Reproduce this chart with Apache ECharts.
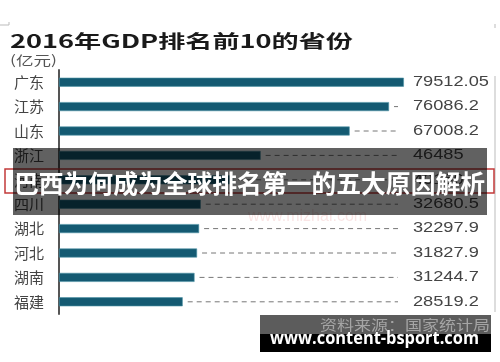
<!DOCTYPE html>
<html>
<head>
<meta charset="utf-8">
<script src="https://cdn.jsdelivr.net/npm/echarts@6/dist/echarts.min.js"></script>
<style>html,body{margin:0;padding:0;background:#fff;}#c{width:500px;height:362px;}</style>
</head>
<body>
<div id="c"></div>
<script>
var categories = ['广东','江苏','山东','浙江','河南','四川','湖北','河北','湖南','福建'];
var values = [79512.05, 76086.2, 67008.2, 46485, 40160, 32680.5, 32297.9, 31827.9, 31244.7, 28519.2];
var titleText = '2016年GDP排名前10的省份';
var unitText = '(亿元)';
var bannerText = '巴西为何成为全球排名第一的五大原因解析';
var sourceText = '资料来源：国家统计局';
var urlText = 'www.content-bsport.com';

var CJK = '"Noto Sans CJK SC", sans-serif';
var mctx = document.createElement('canvas').getContext('2d');
function fitScale(text, font, target){ mctx.font = font; return target / mctx.measureText(text).width; }

var chart = echarts.init(document.getElementById('c'));
var titleFont = 'bold 18px ' + CJK;
var unitFont = '13px ' + CJK;
var bannerFont = 'bold 25px ' + CJK;
var srcFont = '14px ' + CJK;
var urlFont = 'bold 17px "Open Sans", sans-serif';
var valFont = '14px "Liberation Sans", Arial, sans-serif';

var customData = values.map(function(v, i){ return [v, i]; });

chart.setOption({
  animation: false,
  backgroundColor: '#ffffff',
  grid: { left: 59, right: 94, top: 70, height: 244 },
  xAxis: { type: 'value', min: 0, max: 80000, show: false, splitLine: { show: false } },
  yAxis: {
    type: 'category', data: categories, inverse: true,
    axisLine: { show: true, lineStyle: { color: '#555', width: 2 } },
    axisTick: { show: false },
    axisLabel: { margin: 15, color: '#444', fontSize: 15, fontFamily: 'Noto Sans CJK SC' }
  },
  series: [
    { type: 'bar', data: values, barWidth: 9, itemStyle: { color: '#145a72', borderColor: '#4d93a6', borderWidth: 0.6 }, z: 2 },
    {
      type: 'custom', data: customData, encode: { x: 0, y: 1 }, z: 3,
      renderItem: function(params, api){
        var v = api.value(0), i = api.value(1);
        var p = api.coord([v, i]);
        var right = params.coordSys.x + params.coordSys.width;
        var children = [];
        var x0 = p[0] + 5, x1 = right - 8;
        if (x1 > x0) {
          children.push({ type: 'line', shape: { x1: x0, y1: p[1], x2: x1, y2: p[1] },
            style: { stroke: '#777', lineWidth: 1, lineDash: [5, 4] } });
        }
        children.push({ type: 'text', x: right + 7, y: p[1], scaleX: 1.3,
          style: { text: String(values[i]), fill: '#444', font: valFont, align: 'left', verticalAlign: 'middle' } });
        return { type: 'group', children: children };
      }
    }
  ],
  graphic: [
    { type: 'line', shape: { x1: 0, y1: 25, x2: 9, y2: 25 }, style: { stroke: '#bbb', lineWidth: 1 }, z: 1 },
    { type: 'line', shape: { x1: 9, y1: 22, x2: 9, y2: 25 }, style: { stroke: '#bbb', lineWidth: 1 }, z: 1 },
    { type: 'line', shape: { x1: 495, y1: 24, x2: 495, y2: 28 }, style: { stroke: '#bbb', lineWidth: 1 }, z: 1 },
    { type: 'line', shape: { x1: 495, y1: 76, x2: 495, y2: 312 }, style: { stroke: '#bbb', lineWidth: 1 }, z: 1 },
    { type: 'text', x: 10, y: 41, scaleX: fitScale(titleText, titleFont, 343),
      style: { text: titleText, font: titleFont, fill: '#1a1a1a', align: 'left', verticalAlign: 'middle' }, z: 5 },
    { type: 'text', x: 10, y: 60, scaleX: fitScale(unitText, unitFont, 47),
      style: { text: unitText, font: unitFont, fill: '#555', align: 'left', verticalAlign: 'middle' }, z: 5 },
    { type: 'text', x: 248, y: 217,
      style: { text: 'www.mizhai.com', font: '16px "Liberation Sans", sans-serif', fill: 'rgba(225,110,110,0.18)', align: 'left', verticalAlign: 'middle' }, z: 1 },
    { type: 'rect', shape: { x: 5, y: 169, width: 489, height: 24 }, style: { fill: 'none', stroke: '#c23a3a', lineWidth: 1.5 }, z: 6 },
    { type: 'rect', shape: { x: 13, y: 148, width: 474, height: 67 }, style: { fill: 'rgba(0,0,0,0.62)' }, z: 10 },
    { type: 'text', x: 14, y: 183, scaleX: fitScale(bannerText, bannerFont, 471),
      style: { text: bannerText, font: bannerFont, fill: '#ffffff', align: 'left', verticalAlign: 'middle' }, z: 11 },
    { type: 'rect', shape: { x: 260, y: 315, width: 231, height: 19 }, style: { fill: '#5c5c5c' }, z: 10 },
    { type: 'rect', shape: { x: 260, y: 334, width: 231, height: 18 }, style: { fill: '#000000' }, z: 10 },
    { type: 'text', x: 320, y: 325, scaleX: fitScale(sourceText, srcFont, 170),
      style: { text: sourceText, font: srcFont, fill: '#a5a5a5', align: 'left', verticalAlign: 'middle' }, z: 11 },
    { type: 'text', x: 270, y: 339, scaleX: fitScale(urlText, urlFont, 209),
      style: { text: urlText, font: urlFont, fill: '#ffffff', align: 'left', verticalAlign: 'middle' }, z: 12 }
  ]
});
</script>
</body>
</html>
